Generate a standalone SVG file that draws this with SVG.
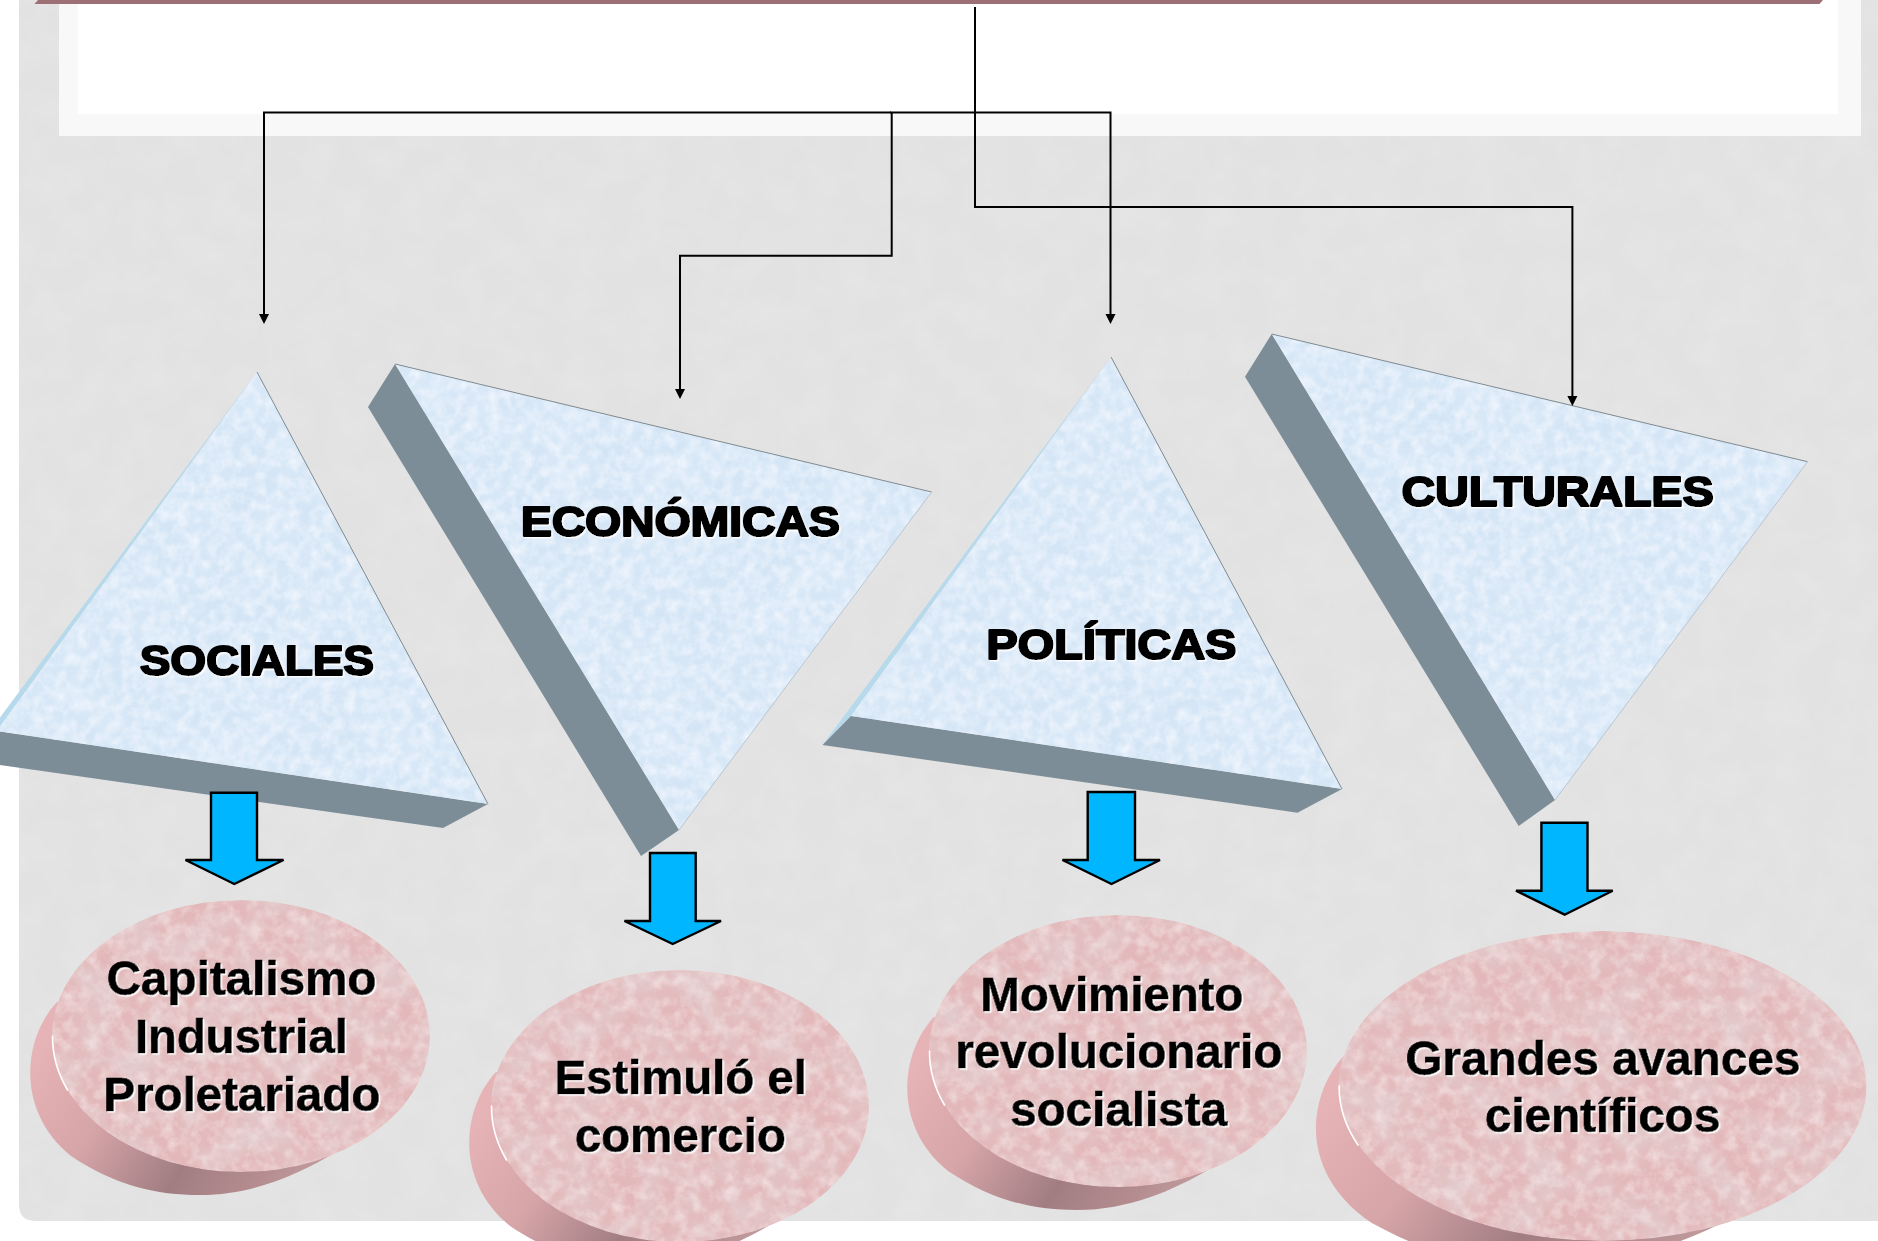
<svg xmlns="http://www.w3.org/2000/svg" width="1878" height="1241" viewBox="0 0 1878 1241">
<style>
.band{fill:#7c8d98}
.sliver{fill:#b6d9ec}
.face{fill:#d4e5f6;filter:url(#ice)}
.edge{fill:none;stroke:#7f8a90;stroke-width:1}
.edge2{fill:none;stroke:#b9c6d2;stroke-width:1}
.conn{fill:none;stroke:#000;stroke-width:2;marker-end:url(#tip)}
.blue{fill:#00b7ff;stroke:#000;stroke-width:2.4;stroke-linejoin:miter}
.disc{fill:url(#side)}
.top{fill:#e3b8ba;filter:url(#rose)}
.glint{fill:none;stroke:#fff;stroke-width:1.6;stroke-linecap:round}
text{font-family:"Liberation Sans",Arial,sans-serif;font-weight:700;fill:#000;filter:url(#halo)}
.head{font-size:42px;stroke:#000;stroke-width:2.2;stroke-linejoin:round}
.body{font-size:48px;stroke:#000;stroke-width:.7}
</style>
<defs>
<marker id="tip" markerUnits="userSpaceOnUse" markerWidth="12" markerHeight="12" refX="1" refY="5.5" orient="auto">
<path d="M0 0.5L10 5.5L0 10.5Z" fill="#000"/>
</marker>
<linearGradient id="side" x1="0" y1="0.3" x2="1" y2="0.7">
<stop offset="0" stop-color="#e6b3b6"/>
<stop offset="0.3" stop-color="#d6a5a8"/>
<stop offset="0.62" stop-color="#a17d82"/>
<stop offset="0.85" stop-color="#b48c8f"/>
<stop offset="1" stop-color="#c09a9c"/>
</linearGradient>
<filter id="ice" x="0" y="0" width="1" height="1">
<feTurbulence type="fractalNoise" baseFrequency="0.022" numOctaves="4" seed="4" result="a"/>
<feColorMatrix in="a" type="matrix" values="0 0 0 0 0.74 0 0 0 0 0.84 0 0 0 0 0.95 1.5 0 0 0 -0.6" result="b"/>
<feTurbulence type="fractalNoise" baseFrequency="0.09" numOctaves="4" seed="9" result="c"/>
<feColorMatrix in="c" type="matrix" values="0 0 0 0 0.93 0 0 0 0 0.96 0 0 0 0 1 1.3 0 0 0 -0.45" result="d"/>
<feMerge result="m"><feMergeNode in="SourceGraphic"/><feMergeNode in="b"/><feMergeNode in="d"/></feMerge>
<feComposite in="m" in2="SourceGraphic" operator="in"/>
</filter>
<filter id="rose" x="0" y="0" width="1" height="1">
<feTurbulence type="fractalNoise" baseFrequency="0.025" numOctaves="5" seed="7" result="a"/>
<feColorMatrix in="a" type="matrix" values="0 0 0 0 0.76 0 0 0 0 0.63 0 0 0 0 0.64 1.7 0 0 0 -0.64" result="b"/>
<feTurbulence type="fractalNoise" baseFrequency="0.08" numOctaves="4" seed="21" result="c"/>
<feColorMatrix in="c" type="matrix" values="0 0 0 0 0.91 0 0 0 0 0.79 0 0 0 0 0.79 1.4 0 0 0 -0.55" result="d"/>
<feMerge result="m"><feMergeNode in="SourceGraphic"/><feMergeNode in="b"/><feMergeNode in="d"/></feMerge>
<feComposite in="m" in2="SourceGraphic" operator="in"/>
</filter>
<filter id="paper" x="0" y="0" width="1" height="1">
<feTurbulence type="fractalNoise" baseFrequency="0.03" numOctaves="3" seed="2" result="a"/>
<feColorMatrix in="a" type="matrix" values="0 0 0 0 0.84 0 0 0 0 0.84 0 0 0 0 0.84 0.6 0 0 0 -0.24" result="b"/>
<feMerge result="m"><feMergeNode in="SourceGraphic"/><feMergeNode in="b"/></feMerge>
<feComposite in="m" in2="SourceGraphic" operator="in"/>
</filter>
<filter id="halo" x="-5%" y="-15%" width="110%" height="130%">
<feDropShadow dx="1.5" dy="1.5" stdDeviation="0.7" flood-color="#fff" flood-opacity="0.95"/>
</filter>
<path id="puck" d="M-184-34C-218 2-226 75-170 120C-125 150-85 159-41 159C10 159 55 140 95 116L0 0Z"/>
</defs>

<rect width="1878" height="1241" fill="#fff"/>
<g id="backdrop">
<path d="M19 0H1878V1221H35Q19 1221 19 1205Z" fill="#e2e2e2" filter="url(#paper)"/>
<rect x="59" y="0" width="1802" height="136" fill="#f8f8f8"/>
<rect x="78" y="0" width="1760" height="114" fill="#fff"/>
<path d="M38 0H1823L1819.5 4H34.5Z" fill="#9c7075"/>
</g>

<g id="node-sociales">
<path class="sliver" d="M257 372L-32 760.5L-3 731Z"/>
<path class="band" d="M-3 731L488 804L443 828L-32 760.5Z"/>
<path class="face" d="M257 372L488 804L-3 731Z"/>
<path class="edge" d="M257 372L488 804"/>
<text class="head" x="257" y="675" text-anchor="middle" textLength="234" lengthAdjust="spacingAndGlyphs">SOCIALES</text>
</g>
<g id="node-economicas">
<path class="band" d="M395 364L368 407L641 856L679 830Z"/>
<path class="face" d="M395 364L931.6 492L679 830Z"/>
<path class="edge" d="M395 364L931.6 492"/>
<path class="edge2" d="M931.6 492L679 830"/>
<text class="head" x="680.5" y="536" text-anchor="middle" textLength="319" lengthAdjust="spacingAndGlyphs">ECONÓMICAS</text>
</g>
<g id="node-politicas">
<path class="sliver" d="M1111 357L822.5 745L851 716Z"/>
<path class="band" d="M851 716L1342 789L1297.5 812.7L822.5 745Z"/>
<path class="face" d="M1111 357L1342 789L851 716Z"/>
<path class="edge" d="M1111 357L1342 789"/>
<text class="head" x="1111.6" y="659" text-anchor="middle" textLength="250" lengthAdjust="spacingAndGlyphs">POLÍTICAS</text>
</g>
<g id="node-culturales">
<path class="band" d="M1271.7 334L1245 376.7L1518.7 826L1555 800Z"/>
<path class="face" d="M1271.7 334L1807.5 461.7L1555 800Z"/>
<path class="edge" d="M1271.7 334L1807.5 461.7"/>
<path class="edge2" d="M1807.5 461.7L1555 800"/>
<text class="head" x="1557.7" y="506.3" text-anchor="middle" textLength="312" lengthAdjust="spacingAndGlyphs">CULTURALES</text>
</g>

<g id="connectors">
<path class="conn" d="M891 112.5H264V315"/>
<path class="conn" d="M890 112.5H1110.5V315"/>
<path class="conn" d="M891.7 112.5V255.7H680V390"/>
<path class="conn" d="M975 7V207H1572.4V397"/>
<path class="blue" d="M211 792.7H257V860H283.5L234.3 884L185.5 860H211Z"/>
<path class="blue" d="M650 853H695.7V921H721L672.7 944L624.5 921H650Z"/>
<path class="blue" d="M1087.7 792H1135V860H1160L1111.5 884L1062.5 860H1087.7Z"/>
<path class="blue" d="M1541.4 822.7H1587.5V890.7H1612.7L1564.6 914.7L1516 890.7H1541.4Z"/>
</g>

<g id="node-capitalismo">
<use href="#puck" class="disc" transform="translate(241 1036)"/>
<ellipse class="top" cx="241" cy="1036" rx="189" ry="136"/>
<path class="glint" d="M52.5 1036A189 136 0 0 0 67.5 1090"/>
<text class="body" x="241.7" y="994.5" text-anchor="middle" textLength="270" lengthAdjust="spacingAndGlyphs">Capitalismo</text>
<text class="body" x="241.4" y="1052.5" text-anchor="middle" textLength="213" lengthAdjust="spacingAndGlyphs">Industrial</text>
<text class="body" x="242" y="1110.5" text-anchor="middle" textLength="277" lengthAdjust="spacingAndGlyphs">Proletariado</text>
</g>
<g id="node-estimulo">
<use href="#puck" class="disc" transform="translate(680 1106)"/>
<ellipse class="top" cx="680" cy="1106" rx="189" ry="136"/>
<path class="glint" d="M491.5 1106A189 136 0 0 0 506.5 1160"/>
<text class="body" x="680.8" y="1094" text-anchor="middle" textLength="252" lengthAdjust="spacingAndGlyphs">Estimuló el</text>
<text class="body" x="680.4" y="1151.5" text-anchor="middle" textLength="211" lengthAdjust="spacingAndGlyphs">comercio</text>
</g>
<g id="node-movimiento">
<use href="#puck" class="disc" transform="translate(1118 1051)"/>
<ellipse class="top" cx="1118" cy="1051" rx="189" ry="136"/>
<path class="glint" d="M929.5 1051A189 136 0 0 0 944.5 1105"/>
<text class="body" x="1112" y="1010.5" text-anchor="middle" textLength="263" lengthAdjust="spacingAndGlyphs">Movimiento</text>
<text class="body" x="1119" y="1068" text-anchor="middle" textLength="327" lengthAdjust="spacingAndGlyphs">revolucionario</text>
<text class="body" x="1118.7" y="1126" text-anchor="middle" textLength="217" lengthAdjust="spacingAndGlyphs">socialista</text>
</g>
<g id="node-grandes">
<use href="#puck" class="disc" transform="translate(1602.6 1086) scale(1.36 1.14)"/>
<ellipse class="top" cx="1602.6" cy="1086" rx="264" ry="155"/>
<path class="glint" d="M1339.2 1086A264 155 0 0 0 1358 1145"/>
<text class="body" x="1603" y="1075" text-anchor="middle" textLength="395" lengthAdjust="spacingAndGlyphs">Grandes avances</text>
<text class="body" x="1602.7" y="1132" text-anchor="middle" textLength="235.5" lengthAdjust="spacingAndGlyphs">científicos</text>
</g>
</svg>
